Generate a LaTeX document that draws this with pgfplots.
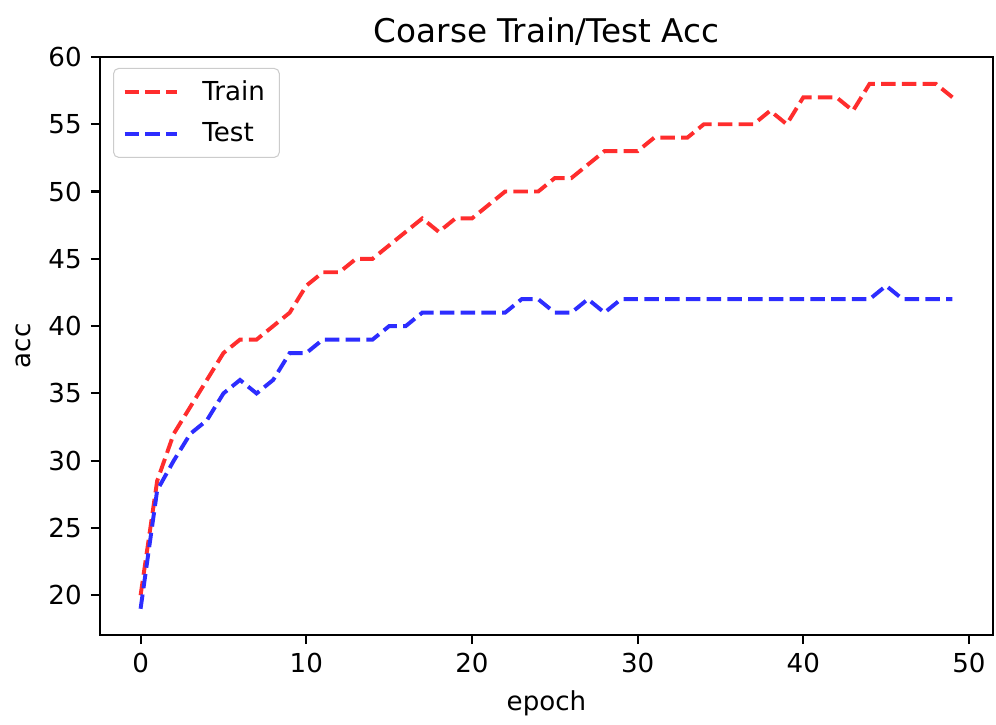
\documentclass[border=0pt]{standalone}
\usepackage{fontspec}
\setmainfont{DejaVu Sans}
\usepackage{pgfplots}
\pgfplotsset{compat=1.18}
\usepackage{pgfplotstable}
\definecolor{trainc}{RGB}{255,45,45}
\definecolor{testc}{RGB}{45,45,255}
\pgfplotstableread{
e train test
0 20 19
1 28.5 27.8
2 32 30
3 34 32
4 36 33
5 38 35
6 39 36
7 39 35
8 40 36
9 41 38
10 43 38
11 44 39
12 44 39
13 45 39
14 45 39
15 46 40
16 47 40
17 48 41
18 47 41
19 48 41
20 48 41
21 49 41
22 50 41
23 50 42
24 50 42
25 51 41
26 51 41
27 52 42
28 53 41
29 53 42
30 53 42
31 54 42
32 54 42
33 54 42
34 55 42
35 55 42
36 55 42
37 55 42
38 56 42
39 55 42
40 57 42
41 57 42
42 57 42
43 56 42
44 58 42
45 58 43
46 58 42
47 58 42
48 58 42
49 57 42
}\data
\begin{document}
\begin{tikzpicture}
\begin{axis}[
  scale only axis, width=342pt, height=221.4pt,
  xmin=-2.45, xmax=51.45, ymin=17.05, ymax=60,
  xtick={0,10,...,50}, ytick={20,25,...,60},
  tick align=outside, tick pos=left,
  major tick length=3.5pt,
  axis line style={line width=0.8pt},
  every tick/.style={black, line width=0.8pt},
  /pgf/number format/assume math mode=true,
  ticklabel style={font=\fontsize{10}{12}\selectfont},
  label style={font=\fontsize{10}{12}\selectfont},
  title style={font=\fontsize{12.5}{14}\selectfont, at={(0.5,1)}, anchor=base, yshift=-0.4pt},
  title={Coarse Train/Test Acc},
  xlabel={epoch}, ylabel={acc},
  legend cell align=left,
  legend style={at={(axis description cs:0,1)}, anchor=north west,
    xshift=5pt, yshift=-4.2pt,
    draw=black!20, rounded corners=2pt, fill=white,
    font=\fontsize{10}{12}\selectfont,
    inner xsep=3.5pt, inner ysep=2.6pt, row sep=3pt},
  legend image code/.code={\draw[#1] (0pt,0pt) -- (20pt,0pt); \path (27pt,0pt);},
]
\addplot[trainc, line width=1.5pt, dash pattern=on 5.55pt off 2.4pt] table[x=e,y=train]{\data};
\addlegendentry{Train}
\addplot[testc, line width=1.5pt, dash pattern=on 5.55pt off 2.4pt] table[x=e,y=test]{\data};
\addlegendentry{Test}
\coordinate (bl) at (rel axis cs:0,0);
\coordinate (tr) at (rel axis cs:1,1);
\end{axis}
\pgfresetboundingbox
\path[use as bounding box] ([xshift=-38.3pt,yshift=-34.1pt]bl) rectangle ([xshift=1.15pt,yshift=21.8pt]tr);
\end{tikzpicture}
\end{document}
